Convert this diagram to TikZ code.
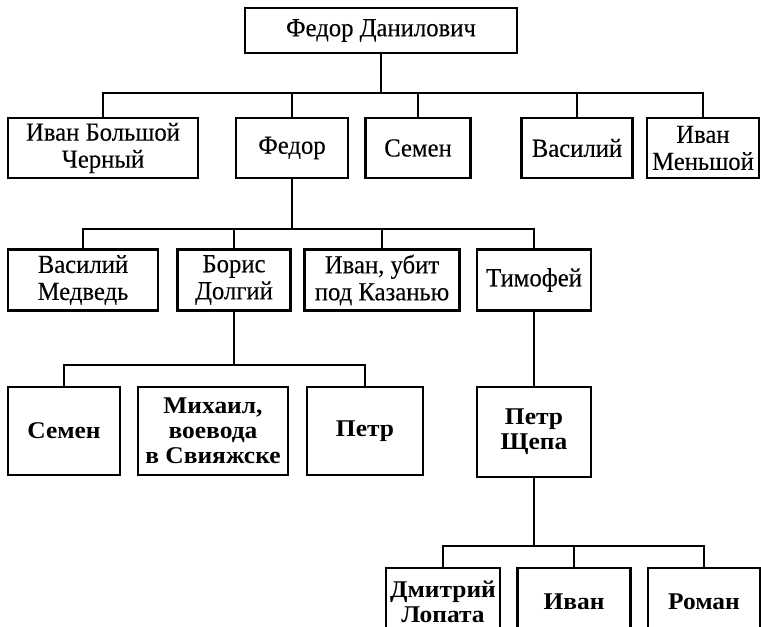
\documentclass[tikz,border=0pt]{standalone}
\usepackage{fontspec}
\setmainfont{Liberation Serif}[FakeStretch=1.06]
\newfontfamily\regf{Liberation Serif}[FakeStretch=0.95, FakeBold=0.15]
\begin{document}
\begin{tikzpicture}[x=1pt,y=-1pt,
  box/.style={draw, line width=2.2pt, inner sep=0pt, align=center,
    font=\regf\fontsize{26}{27}\selectfont},
  boxb/.style={box, font=\fontsize{24}{25}\selectfont\bfseries},
  conn/.style={line width=1.8pt}]
\useasboundingbox (0,0) rectangle (761,627);
\fill[white] (0,0) rectangle (761,627);
% level 0
\node[box, minimum width=272pt, minimum height=45pt] (top) at (381,30.5) {Федор Данилович};
% level 1
\node[box, minimum width=190pt, minimum height=60pt] (ib) at (103,148) {Иван Большой\\Черный};
\node[box, minimum width=112pt, minimum height=60pt] (fe) at (292,148) {Федор};
\node[box, minimum width=105pt, minimum height=60pt] (se) at (418,148) {Семен};
\node[box, minimum width=111pt, minimum height=60pt] (va) at (577,148) {Василий};
\node[box, minimum width=112pt, minimum height=60pt] (im) at (703,148) {Иван\\Меньшой};
% level 2
\node[box, minimum width=150pt, minimum height=61pt] (vm) at (83,280) {Василий\\Медведь};
\node[box, minimum width=113pt, minimum height=61pt] (bd) at (234,280) {Борис\\Долгий};
\node[box, minimum width=155pt, minimum height=61pt] (iu) at (382,280) {Иван, убит\\под Казанью};
\node[box, minimum width=114pt, minimum height=61pt] (ti) at (534,280) {Тимофей};
% level 3
\node[boxb, minimum width=112pt, minimum height=88pt] (s4) at (64,431) {Семен};
\node[boxb, minimum width=150pt, minimum height=88pt] (mi) at (213,431) {Михаил,\\воевода\\в Свияжске};
\node[boxb, minimum width=116pt, minimum height=88pt] (pe) at (365,431) {Петр};
\node[boxb, minimum width=114pt, minimum height=90pt] (ps) at (534,432) {Петр\\Щепа};
% level 4
\node[boxb, minimum width=114pt, minimum height=67pt] (dl) at (443,601.5) {Дмитрий\\Лопата};
\node[boxb, minimum width=113pt, minimum height=67pt] (iv) at (574,601.5) {Иван};
\node[boxb, minimum width=112pt, minimum height=67pt] (ro) at (704,601.5) {Роман};
% connectors
\draw[conn] (top.south) -- ++(0,39) coordinate (b1);
\foreach \c in {ib,fe,se,va,im} \draw[conn] (b1) -| (\c.north);
\draw[conn] (fe.south) -- ++(0,50) coordinate (b2);
\foreach \c in {vm,bd,iu,ti} \draw[conn] (b2) -| (\c.north);
\draw[conn] (bd.south) -- ++(0,53) coordinate (b3);
\foreach \c in {s4,pe} \draw[conn] (b3) -| (\c.north);
\draw[conn] (ti.south) -- (ps.north);
\draw[conn] (ps.south) -- ++(0,68) coordinate (b4);
\foreach \c in {dl,iv,ro} \draw[conn] (b4) -| (\c.north);
\end{tikzpicture}
\end{document}
